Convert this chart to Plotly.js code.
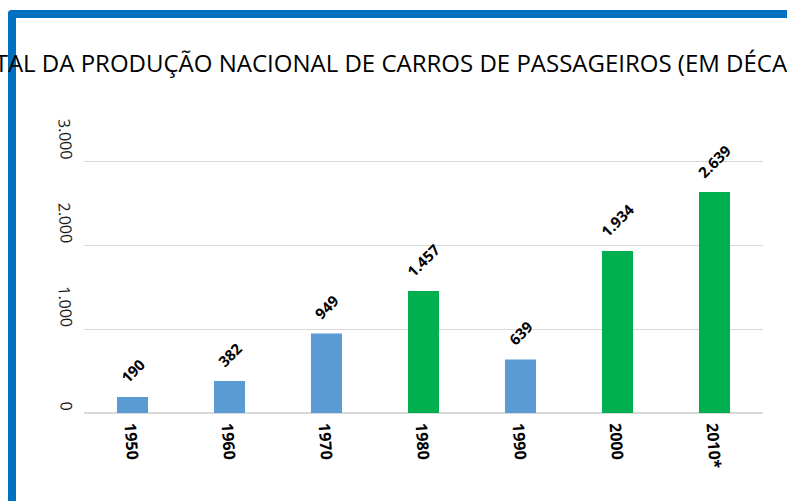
<!DOCTYPE html>
<html>
<head>
<meta charset="utf-8">
<script src="https://cdn.plot.ly/plotly-3.0.1.min.js"></script>
<style>
  html, body { margin: 0; padding: 0; background: #ffffff; overflow: hidden; }
  #wrap { position: relative; width: 787px; height: 501px; }
  #frame { position: absolute; left: 8px; top: 10px; width: 900px; height: 600px;
           border-top: 8px solid #0070C0; border-left: 8px solid #0070C0;
           border-top-left-radius: 4px; box-sizing: border-box; z-index: 0; }
  #chart { position: absolute; left: 0; top: 0; width: 787px; height: 501px; z-index: 1; }
</style>
</head>
<body>
<div id="wrap">
  <div id="frame"></div>
  <div id="chart"></div>
</div>
<script>
// Data
const decades = ['1950', '1960', '1970', '1980', '1990', '2000', '2010*'];
const production = [190, 382, 949, 1457, 639, 1934, 2639];
const yTicks = [0, 1000, 2000, 3000];
const titleText = 'TOTAL DA PRODUÇÃO NACIONAL DE CARROS DE PASSAGEIROS (EM DÉCADAS)';

// Styles
const BLUE = '#5B9BD5';
const GREEN = '#00B050';
const barColors = [BLUE, BLUE, BLUE, GREEN, BLUE, GREEN, GREEN];

function fmt(v) {
  return String(v).replace(/\B(?=(\d{3})+(?!\d))/g, '.');
}

const trace = {
  type: 'bar',
  x: decades,
  y: production,
  marker: { color: barColors },
  width: 0.32,
  hoverinfo: 'x+y'
};

const labelAnnotations = decades.map((d, i) => ({
  x: i, y: production[i], xref: 'x', yref: 'y',
  text: fmt(production[i]),
  textangle: -45,
  showarrow: false,
  xanchor: 'center', yanchor: 'bottom',
  yshift: 7,
  font: { family: 'Open Sans, sans-serif', size: 15, color: '#000000', weight: 'bold' }
}));

const layout = {
  width: 787, height: 501,
  margin: { l: 84, r: 24, t: 160, b: 88, pad: 0 },
  paper_bgcolor: 'rgba(0,0,0,0)',
  plot_bgcolor: 'rgba(0,0,0,0)',
  separators: ',.',
  showlegend: false,
  title: {
    text: titleText,
    font: { family: 'Open Sans, sans-serif', size: 24, color: '#000000' },
    xref: 'container', yref: 'container',
    x: 0.510, xanchor: 'center',
    y: 0.874, yanchor: 'middle'
  },
  xaxis: {
    type: 'category',
    categoryorder: 'array',
    categoryarray: decades,
    range: [-0.5, decades.length - 0.5],
    tickangle: 86,
    tickfont: { family: 'Open Sans, sans-serif', size: 16, color: '#000000', weight: 'bold' },
    showgrid: false,
    showline: false,
    zeroline: false,
    ticks: '',
    ticklabelstandoff: 1
  },
  yaxis: {
    range: [0, 3020],
    tickvals: yTicks,
    tickformat: ',d',
    tickangle: 86,
    tickfont: { family: 'Open Sans, sans-serif', size: 16, color: '#1a1a1a' },
    showgrid: true,
    gridcolor: '#D9D9D9',
    gridwidth: 1,
    zeroline: true,
    zerolinecolor: '#D9D9D9',
    zerolinewidth: 1.5,
    showline: false,
    ticks: '',
    ticklabelstandoff: 14
  },
  annotations: labelAnnotations
};

Plotly.newPlot('chart', [trace], layout, { displayModeBar: false, staticPlot: true });
</script>
</body>
</html>
